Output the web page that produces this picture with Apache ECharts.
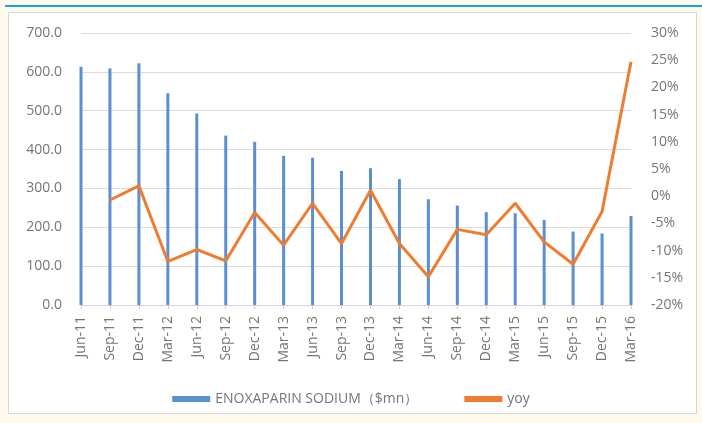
<!DOCTYPE html>
<html>
<head>
<meta charset="utf-8">
<style>
  html, body { margin: 0; padding: 0; background: #FFF9EE; }
  #chart { width: 702px; height: 423px; }
</style>
<script src="https://cdn.jsdelivr.net/npm/echarts@6/dist/echarts.min.js"></script>
</head>
<body>
<div id="chart"></div>
<script>
// Quarterly sales of enoxaparin sodium and year-over-year growth
const quarters = ['Jun-11', 'Sep-11', 'Dec-11', 'Mar-12', 'Jun-12', 'Sep-12', 'Dec-12',
  'Mar-13', 'Jun-13', 'Sep-13', 'Dec-13', 'Mar-14', 'Jun-14', 'Sep-14', 'Dec-14',
  'Mar-15', 'Jun-15', 'Sep-15', 'Dec-15', 'Mar-16'];
const salesMn = [613, 609, 622, 545, 493, 436, 420, 384, 379, 345, 352, 324, 272, 256,
  239, 236, 219, 189, 184, 229];
const yoyPct = [null, -0.7, 1.9, -12.0, -9.8, -11.9, -3.0, -9.0, -1.3, -8.7, 1.1, -8.7,
  -14.8, -6.1, -7.1, -1.3, -8.4, -12.5, -2.8, 24.7];
const salesName = 'ENOXAPARIN SODIUM（$mn）';
const yoyName = 'yoy';

const textColor = '#767676';
const gridColor = '#dcdcdc';
const font = 'Open Sans, Liberation Sans, sans-serif';

const chart = echarts.init(document.getElementById('chart'), null, { renderer: 'canvas' });
chart.setOption({
  backgroundColor: '#FFF9EE',
  animation: false,
  textStyle: { fontFamily: font },
  graphic: [
    { type: 'rect', silent: true, z: -10,
      shape: { x: 8.5, y: 12.5, width: 688, height: 401 },
      style: { fill: '#ffffff', stroke: '#d6d6d6', lineWidth: 1 } },
    { type: 'rect', silent: true, z: -9,
      shape: { x: 5, y: 5, width: 697, height: 2 },
      style: { fill: '#16A3E6' } }
  ],
  grid: { left: 81, right: 71, top: 33, bottom: 118 },
  legend: {
    bottom: 12,
    left: 'center',
    itemGap: 46,
    itemWidth: 38,
    itemHeight: 6,
    textStyle: { color: textColor, fontSize: 14, fontFamily: font },
    data: [
      { name: salesName, icon: 'rect' },
      { name: yoyName, icon: 'rect', itemStyle: { color: '#ED7D31' } }
    ]
  },
  xAxis: {
    type: 'category',
    data: quarters,
    boundaryGap: false,
    axisLine: { lineStyle: { color: '#cfd6df', width: 1 } },
    axisTick: { show: true, length: 4, lineStyle: { color: '#c8ced6' } },
    axisLabel: { rotate: 90, color: textColor, fontSize: 14, margin: 11, interval: 0 },
    splitLine: { show: false }
  },
  yAxis: [
    {
      type: 'value', min: 0, max: 700, interval: 100,
      axisLine: { show: false }, axisTick: { show: false },
      axisLabel: { color: textColor, fontSize: 14, margin: 19,
        formatter: v => v.toFixed(1) },
      splitLine: { lineStyle: { color: gridColor, width: 1 } }
    },
    {
      type: 'value', min: -20, max: 30, interval: 5,
      axisLine: { show: false }, axisTick: { show: false },
      axisLabel: { color: textColor, fontSize: 14, margin: 20,
        formatter: v => v + '%' },
      splitLine: { show: false }
    }
  ],
  series: [
    {
      name: salesName,
      type: 'bar',
      data: salesMn,
      barWidth: 3,
      itemStyle: { color: '#5B8FD0' }
    },
    {
      name: yoyName,
      type: 'line',
      yAxisIndex: 1,
      data: yoyPct,
      showSymbol: false,
      symbol: 'none',
      connectNulls: false,
      lineStyle: { color: '#ED7D31', width: 3 },
      itemStyle: { color: '#ED7D31' },
      z: 3
    }
  ]
});
</script>
</body>
</html>
